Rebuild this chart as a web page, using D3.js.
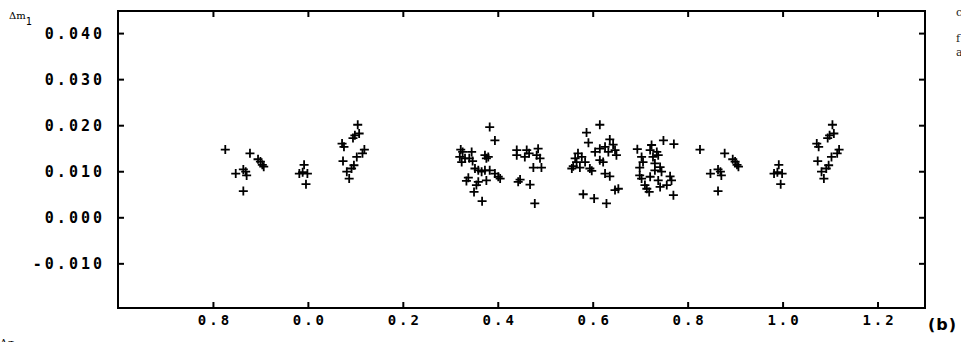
<!DOCTYPE html>
<html>
<head>
<meta charset="utf-8">
<script src="https://cdn.jsdelivr.net/npm/d3@7"></script>
<style>
  html, body { margin: 0; padding: 0; background: #fff; }
  svg { display: block; }
</style>
</head>
<body>
<svg id="chart" width="961" height="342"></svg>
<script>
// phase of each observation (0..1) and its delta m1 residual
var phase = [
  // 0.07 - 0.12
  0.105, 0.099, 0.095, 0.108, 0.072, 0.076, 0.119, 0.115, 0.103, 0.074, 0.097, 0.092, 0.082, 0.087,
  // 0.32 - 0.41
  0.383, 0.394, 0.322, 0.326, 0.345, 0.320, 0.331, 0.340, 0.324, 0.347, 0.373, 0.380, 0.376, 0.352,
  0.359, 0.366, 0.373, 0.383, 0.394, 0.401, 0.405, 0.338, 0.334, 0.359, 0.355, 0.376, 0.350, 0.367,
  // 0.44 - 0.49
  0.440, 0.461, 0.466, 0.485, 0.440, 0.457, 0.482, 0.489, 0.475, 0.492, 0.447, 0.443, 0.468, 0.478,
  // 0.55 - 0.66
  0.615, 0.587, 0.591, 0.636, 0.643, 0.626, 0.615, 0.605, 0.633, 0.647, 0.650, 0.569, 0.577, 0.563,
  0.566, 0.584, 0.559, 0.556, 0.573, 0.594, 0.598, 0.615, 0.622, 0.626, 0.636, 0.647, 0.654, 0.580,
  0.603, 0.629,
  // 0.69 - 0.77
  0.694, 0.749, 0.771, 0.724, 0.721, 0.735, 0.703, 0.727, 0.738, 0.706, 0.699, 0.731, 0.742, 0.731,
  0.745, 0.699, 0.703, 0.721, 0.763, 0.766, 0.710, 0.714, 0.742, 0.756, 0.719, 0.770, 0.738,
  // 0.82 - 0.91
  0.826, 0.848, 0.864, 0.869, 0.871, 0.864, 0.878, 0.895, 0.900, 0.904, 0.907,
  // 0.98 - 1.00
  0.992, 0.982, 0.989, 0.999, 0.996
];
var dm1 = [
  0.0201, 0.0178, 0.0172, 0.0182, 0.0160, 0.0153, 0.0147, 0.0139, 0.0131, 0.0122, 0.0113, 0.0106, 0.0099, 0.0084,
  0.0196, 0.0167, 0.0147, 0.0142, 0.0142, 0.0131, 0.0128, 0.0128, 0.0120, 0.0122, 0.0135, 0.0131, 0.0128, 0.0106,
  0.0102, 0.0099, 0.0102, 0.0102, 0.0095, 0.0088, 0.0084, 0.0086, 0.0079, 0.0077, 0.0070, 0.0080, 0.0055, 0.0035,
  0.0146, 0.0146, 0.0139, 0.0149, 0.0135, 0.0131, 0.0135, 0.0128, 0.0108, 0.0108, 0.0082, 0.0077, 0.0071, 0.0030,
  0.0201, 0.0184, 0.0162, 0.0169, 0.0158, 0.0153, 0.0149, 0.0142, 0.0142, 0.0146, 0.0135, 0.0139, 0.0131, 0.0128,
  0.0120, 0.0120, 0.0111, 0.0106, 0.0108, 0.0106, 0.0101, 0.0124, 0.0120, 0.0095, 0.0089, 0.0059, 0.0062, 0.0050,
  0.0041, 0.0030,
  0.0148, 0.0167, 0.0159, 0.0157, 0.0146, 0.0142, 0.0131, 0.0131, 0.0135, 0.0120, 0.0108, 0.0117, 0.0109, 0.0102,
  0.0099, 0.0091, 0.0084, 0.0088, 0.0089, 0.0080, 0.0070, 0.0062, 0.0066, 0.0070, 0.0055, 0.0048, 0.0080,
  0.0147, 0.0095, 0.0104, 0.0099, 0.0091, 0.0057, 0.0139, 0.0126, 0.0121, 0.0114, 0.0110,
  0.0114, 0.0095, 0.0098, 0.0095, 0.0072
];

var xTicks = [-0.2, 0.0, 0.2, 0.4, 0.6, 0.8, 1.0, 1.2];
var xTickLabels = ["0.8", "0.0", "0.2", "0.4", "0.6", "0.8", "1.0", "1.2"];
var yTicks = [0.04, 0.03, 0.02, 0.01, 0.0, -0.01];

// plot box (don't call these top/left: window.top is read only)
var plotL = 118, plotR = 925, plotT = 11, plotB = 308;

var svg = d3.select("#chart");

var x = d3.scaleLinear().domain([-0.4, 1.3]).range([plotL, plotR]);
var y = d3.scaleLinear().domain([-0.0197, 0.0448]).range([plotB, plotT]);

// phases near the ends are plotted twice, one cycle apart
var points = [];
phase.forEach((p, i) => {
    points.push([p, dm1[i]]);
    if (p > 0.8) points.push([p - 1, dm1[i]]);
    if (p < 0.15) points.push([p + 1, dm1[i]]);
});

// frame
svg.append("rect")
    .attr("x", plotL)
    .attr("y", plotT)
    .attr("width", plotR - plotL)
    .attr("height", plotB - plotT)
    .attr("fill", "none")
    .attr("stroke", "#000")
    .attr("stroke-width", 2);

// axes, ticks pointing inward
var tickLen = 6;
var fmtY = v => (v < 0 ? "-" : "") + Math.abs(v).toFixed(3);

svg.append("g")
    .attr("transform", `translate(${plotL},0)`)
    .call(d3.axisRight(y).tickValues(yTicks).tickSize(tickLen).tickFormat(""))
    .call(g => g.select(".domain").remove());
svg.append("g")
    .attr("transform", `translate(${plotR},0)`)
    .call(d3.axisLeft(y).tickValues(yTicks).tickSize(tickLen).tickFormat(""))
    .call(g => g.select(".domain").remove());
svg.append("g")
    .attr("transform", `translate(0,${plotB})`)
    .call(d3.axisTop(x).tickValues(xTicks).tickSize(tickLen).tickFormat(""))
    .call(g => g.select(".domain").remove());
svg.append("g")
    .attr("transform", `translate(0,${plotT})`)
    .call(d3.axisBottom(x).tickValues(xTicks).tickSize(tickLen).tickFormat(""))
    .call(g => g.select(".domain").remove());
svg.selectAll(".tick line").attr("stroke", "#000").attr("stroke-width", 2);

// tick labels in a plotter style mono font
var labelFont = "'DejaVu Sans Mono', monospace";
svg.append("g")
    .selectAll("text")
    .data(yTicks)
    .join("text")
    .attr("x", plotL - 13)
    .attr("y", d => y(d) + 5.5)
    .attr("text-anchor", "end")
    .attr("font-family", labelFont)
    .attr("font-weight", "bold")
    .attr("font-size", 15)
    .attr("letter-spacing", 3)
    .text(fmtY);

svg.append("g")
    .selectAll("text")
    .data(xTicks)
    .join("text")
    .attr("x", d => x(d) + 2)
    .attr("y", plotB + 17)
    .attr("text-anchor", "middle")
    .attr("font-family", labelFont)
    .attr("font-weight", "bold")
    .attr("font-size", 14)
    .attr("letter-spacing", 3)
    .text((d, i) => xTickLabels[i]);

// data marks
var arm = 4.5;
svg.append("g")
    .attr("stroke", "#000")
    .attr("stroke-width", 1.8)
    .attr("fill", "none")
    .selectAll("path")
    .data(points)
    .join("path")
    .attr("d", d => {
        var cx = x(d[0]), cy = y(d[1]);
        return `M${cx - arm},${cy}H${cx + arm}M${cx},${cy - arm}V${cy + arm}`;
    });

// axis name, panel letter and bits of the surrounding page
var yName = svg.append("text")
    .attr("x", 9)
    .attr("y", 19)
    .attr("font-family", "'DejaVu Serif', serif")
    .attr("font-size", 10)
    .text("\u0394m");
yName.append("tspan")
    .attr("dy", 6)
    .attr("font-family", labelFont)
    .text("1");

svg.append("text")
    .attr("x", 928)
    .attr("y", 330)
    .attr("font-family", "'DejaVu Sans', sans-serif")
    .attr("font-weight", "bold")
    .attr("font-size", 16)
    .attr("letter-spacing", 1)
    .text("(b)");

svg.append("text")
    .attr("x", 0)
    .attr("y", 346)
    .attr("font-family", "'DejaVu Serif', serif")
    .attr("font-size", 10)
    .text("\u0394\u03c3");

svg.append("g")
    .attr("font-family", "'DejaVu Serif', serif")
    .attr("font-size", 11)
    .attr("fill", "#222")
    .selectAll("text")
    .data([["c", 16], ["f", 42], ["a", 56]])
    .join("text")
    .attr("x", 956)
    .attr("y", d => d[1])
    .text(d => d[0]);
</script>
</body>
</html>
